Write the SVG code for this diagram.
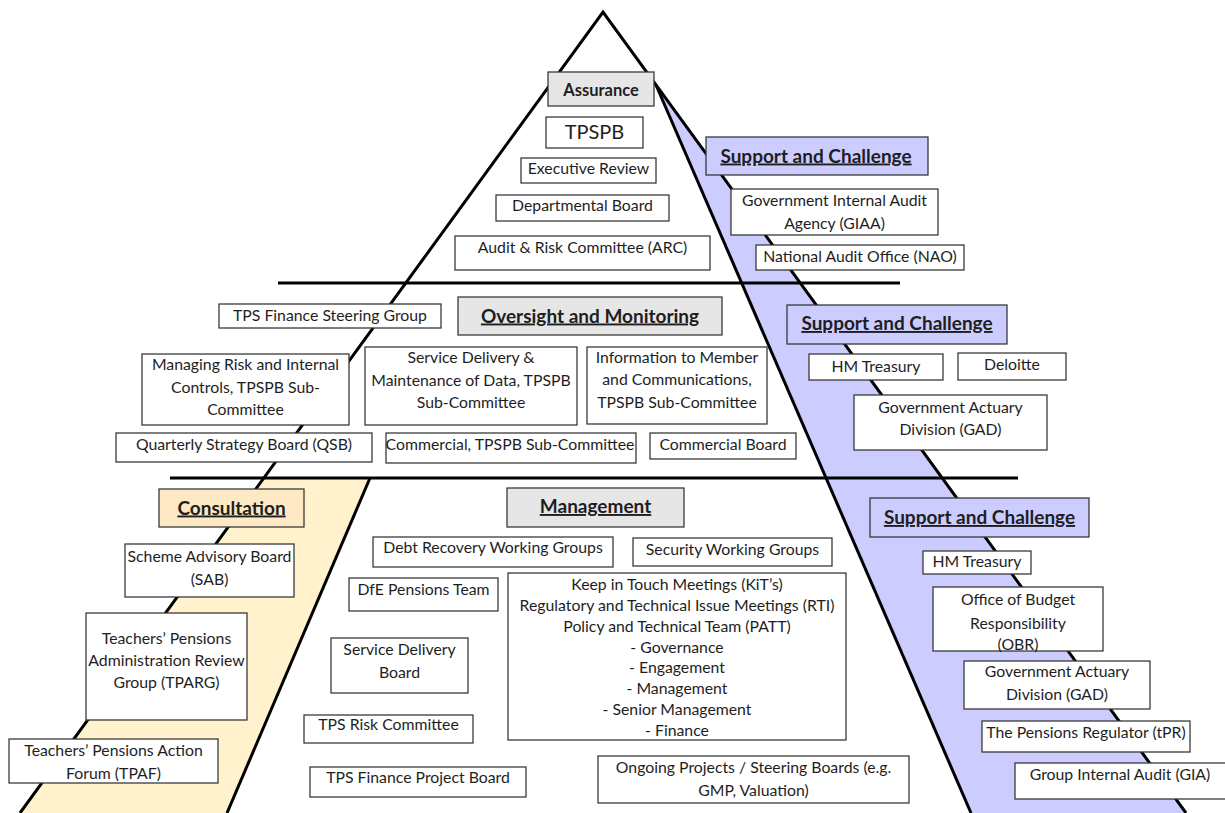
<svg xmlns="http://www.w3.org/2000/svg" width="1225" height="813" viewBox="0 0 1225 813">
  <style>
    .box { fill: #ffffff; stroke: #3a3a3a; stroke-width: 1.3; }
    .gray { fill: #e7e6e6; stroke: #3a3a3a; stroke-width: 1.3; }
    .purple { fill: #ccccff; stroke: #3a3a3a; stroke-width: 1.3; }
    .beige { fill: #fde9c3; stroke: #3a3a3a; stroke-width: 1.3; }
    .edge { stroke: #000000; stroke-width: 3; fill: none; stroke-linecap: butt; }
    text { font-family: Lato, "Liberation Sans", sans-serif; fill: #1e1e1e; text-anchor: middle; }
    .t { font-size: 15.8px; }
    .big { font-size: 20px; }
    .hd { font-size: 19px; font-weight: bold; text-decoration: underline; }
    .as { font-size: 16.5px; font-weight: bold; }
  </style>

  <!-- pyramid bands and outline -->
  <g id="pyramid">
    <polygon points="656,85 1186,813 971,813" fill="#ccccff"/>
    <polygon points="264,478 370,478 227,813 20,813" fill="#fff2cc"/>
    <polyline class="edge" points="20,813 603,12 1186,813"/>
    <line class="edge" x1="656" y1="85" x2="971" y2="813"/>
    <line class="edge" x1="370" y1="478" x2="227" y2="813"/>
    <line class="edge" x1="278" y1="283" x2="900" y2="283"/>
    <line class="edge" x1="170" y1="478" x2="1018" y2="478"/>
  </g>

  <!-- Assurance tier -->
  <g id="assurance">
    <rect class="gray" x="548" y="72" width="106" height="34"/>
    <text class="as" x="601" y="96">Assurance</text>
  </g>
  <g id="tpspb">
    <rect class="box" x="546" y="117" width="97" height="31"/>
    <text class="big" x="594.5" y="139">TPSPB</text>
  </g>
  <g id="executive-review">
    <rect class="box" x="521" y="158" width="135" height="25"/>
    <text class="t" x="588.5" y="173.5">Executive Review</text>
  </g>
  <g id="departmental-board">
    <rect class="box" x="496" y="195" width="173" height="26"/>
    <text class="t" x="582.5" y="210.5">Departmental Board</text>
  </g>
  <g id="arc">
    <rect class="box" x="455" y="236" width="255" height="34"/>
    <text class="t" x="582.5" y="252.5">Audit &amp; Risk Committee (ARC)</text>
  </g>
  <g id="support-1">
    <rect class="purple" x="706" y="137" width="222" height="38"/>
    <text class="hd" x="816" y="162.5">Support and Challenge</text>
  </g>
  <g id="giaa">
    <rect class="box" x="731" y="189" width="207" height="46"/>
    <text class="t" x="834.5" y="205.5">Government Internal Audit</text>
    <text class="t" x="834.5" y="228.5">Agency (GIAA)</text>
  </g>
  <g id="nao">
    <rect class="box" x="756" y="245" width="208" height="25"/>
    <text class="t" x="860" y="261.5">National Audit Office (NAO)</text>
  </g>

  <!-- Oversight and Monitoring tier -->
  <g id="finance-steering">
    <rect class="box" x="219" y="304" width="222" height="24"/>
    <text class="t" x="330" y="320.5">TPS Finance Steering Group</text>
  </g>
  <g id="oversight">
    <rect class="gray" x="458" y="297" width="264" height="38"/>
    <text class="hd" x="590" y="322.5">Oversight and Monitoring</text>
  </g>
  <g id="managing-risk">
    <rect class="box" x="142" y="354" width="207" height="71"/>
    <text class="t" x="245.5" y="369.5">Managing Risk and Internal</text>
    <text class="t" x="245.5" y="392.5">Controls, TPSPB Sub-</text>
    <text class="t" x="245.5" y="414.5">Committee</text>
  </g>
  <g id="service-delivery-data">
    <rect class="box" x="365" y="347" width="212" height="78"/>
    <text class="t" x="471" y="362.5">Service Delivery &amp;</text>
    <text class="t" x="471" y="385.5">Maintenance of Data, TPSPB</text>
    <text class="t" x="471" y="407.5">Sub-Committee</text>
  </g>
  <g id="information-members">
    <rect class="box" x="587" y="347" width="180" height="77"/>
    <text class="t" x="677" y="362.5">Information to Member</text>
    <text class="t" x="677" y="384.5">and Communications,</text>
    <text class="t" x="677" y="407.5">TPSPB Sub-Committee</text>
  </g>
  <g id="qsb">
    <rect class="box" x="116" y="433" width="256" height="29"/>
    <text class="t" x="244" y="449.5">Quarterly Strategy Board (QSB)</text>
  </g>
  <g id="commercial-sub">
    <rect class="box" x="386" y="433" width="250" height="30"/>
    <text class="t" x="510" y="449.5">Commercial, TPSPB Sub-Committee</text>
  </g>
  <g id="commercial-board">
    <rect class="box" x="650" y="433" width="146" height="26"/>
    <text class="t" x="723" y="449.5">Commercial Board</text>
  </g>
  <g id="support-2">
    <rect class="purple" x="787" y="305" width="220" height="39"/>
    <text class="hd" x="897" y="330">Support and Challenge</text>
  </g>
  <g id="hmt-1">
    <rect class="box" x="809" y="354" width="134" height="26"/>
    <text class="t" x="876" y="371.5">HM Treasury</text>
  </g>
  <g id="deloitte">
    <rect class="box" x="958" y="353" width="108" height="27"/>
    <text class="t" x="1012" y="369.5">Deloitte</text>
  </g>
  <g id="gad-1">
    <rect class="box" x="854" y="395" width="193" height="55"/>
    <text class="t" x="950.5" y="412.5">Government Actuary</text>
    <text class="t" x="950.5" y="434.5">Division (GAD)</text>
  </g>

  <!-- Management tier -->
  <g id="consultation">
    <rect class="beige" x="159" y="489" width="145" height="38"/>
    <text class="hd" x="231.5" y="514.5">Consultation</text>
  </g>
  <g id="sab">
    <rect class="box" x="125" y="544" width="169" height="53"/>
    <text class="t" x="209.5" y="561.5">Scheme Advisory Board</text>
    <text class="t" x="209.5" y="584.5">(SAB)</text>
  </g>
  <g id="tparg">
    <rect class="box" x="86" y="613" width="161" height="107"/>
    <text class="t" x="166.5" y="643.5">Teachers’ Pensions</text>
    <text class="t" x="166.5" y="665.5">Administration Review</text>
    <text class="t" x="166.5" y="687.5">Group (TPARG)</text>
  </g>
  <g id="tpaf">
    <rect class="box" x="9" y="739" width="209" height="44"/>
    <text class="t" x="113.5" y="755.5">Teachers’ Pensions Action</text>
    <text class="t" x="113.5" y="778.5">Forum (TPAF)</text>
  </g>
  <g id="management">
    <rect class="gray" x="507" y="488" width="177" height="39"/>
    <text class="hd" x="595.5" y="513">Management</text>
  </g>
  <g id="debt-recovery">
    <rect class="box" x="373" y="537" width="240" height="30"/>
    <text class="t" x="493" y="552.5">Debt Recovery Working Groups</text>
  </g>
  <g id="security">
    <rect class="box" x="633" y="538" width="199" height="28"/>
    <text class="t" x="732.5" y="554.5">Security Working Groups</text>
  </g>
  <g id="dfe-team">
    <rect class="box" x="349" y="578" width="149" height="33"/>
    <text class="t" x="423.5" y="594.5">DfE Pensions Team</text>
  </g>
  <g id="meetings">
    <rect class="box" x="508" y="573" width="338" height="167"/>
    <text class="t" x="677" y="589.5">Keep in Touch Meetings (KiT’s)</text>
    <text class="t" x="677" y="610.5">Regulatory and Technical Issue Meetings (RTI)</text>
    <text class="t" x="677" y="631.5">Policy and Technical Team (PATT)</text>
    <text class="t" x="677" y="652.5">- Governance</text>
    <text class="t" x="677" y="672.5">- Engagement</text>
    <text class="t" x="677" y="693.5">- Management</text>
    <text class="t" x="677" y="714.5">- Senior Management</text>
    <text class="t" x="677" y="735.5">- Finance</text>
  </g>
  <g id="service-delivery-board">
    <rect class="box" x="331" y="638" width="137" height="55"/>
    <text class="t" x="399.5" y="654.5">Service Delivery</text>
    <text class="t" x="399.5" y="677.5">Board</text>
  </g>
  <g id="risk-committee">
    <rect class="box" x="304" y="715" width="169" height="28"/>
    <text class="t" x="388.5" y="729.5">TPS Risk Committee</text>
  </g>
  <g id="finance-project">
    <rect class="box" x="310" y="767" width="216" height="30"/>
    <text class="t" x="418" y="782.5">TPS Finance Project Board</text>
  </g>
  <g id="ongoing-projects">
    <rect class="box" x="598" y="756" width="311" height="47"/>
    <text class="t" x="753.5" y="772.5">Ongoing Projects / Steering Boards (e.g.</text>
    <text class="t" x="753.5" y="795.5">GMP, Valuation)</text>
  </g>
  <g id="support-3">
    <rect class="purple" x="870" y="498" width="219" height="39"/>
    <text class="hd" x="979.5" y="524">Support and Challenge</text>
  </g>
  <g id="hmt-2">
    <rect class="box" x="923" y="551" width="108" height="23"/>
    <text class="t" x="977" y="567">HM Treasury</text>
  </g>
  <g id="obr">
    <rect class="box" x="933" y="587" width="170" height="64"/>
    <text class="t" x="1018" y="604.5">Office of Budget</text>
    <text class="t" x="1018" y="628.5">Responsibility</text>
    <text class="t" x="1018" y="649.5">(OBR)</text>
  </g>
  <g id="gad-2">
    <rect class="box" x="964" y="661" width="186" height="48"/>
    <text class="t" x="1057" y="676.5">Government Actuary</text>
    <text class="t" x="1057" y="699.5">Division (GAD)</text>
  </g>
  <g id="tpr">
    <rect class="box" x="982" y="721" width="208" height="31"/>
    <text class="t" x="1086" y="737.5">The Pensions Regulator (tPR)</text>
  </g>
  <g id="gia">
    <rect class="box" x="1015" y="763" width="212" height="36"/>
    <text class="t" x="1120" y="779.5">Group Internal Audit (GIA)</text>
  </g>
</svg>
